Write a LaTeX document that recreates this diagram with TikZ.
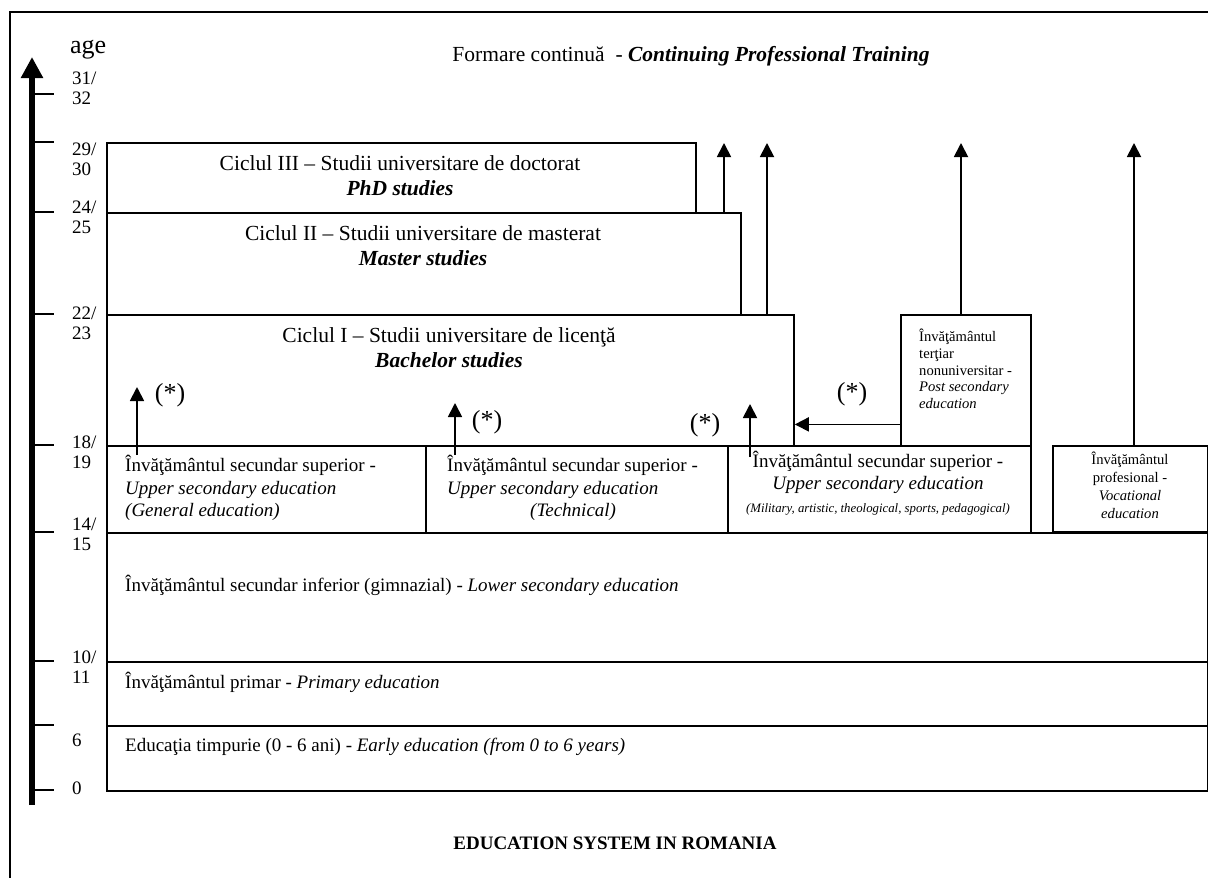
\documentclass[tikz,border=0pt]{standalone}
\usepackage{fontspec}
\setmainfont{Liberation Serif}
\usetikzlibrary{arrows.meta,calc}

\begin{document}
\begin{tikzpicture}[x=1pt,y=-1pt]
\tikzset{caja/.style={draw, line width=1.8pt, anchor=north west, inner sep=0pt}}
\tikzset{flecha/.style={-{Triangle[width=14pt,length=14pt]}, line width=1.8pt}}
\tikzset{eje/.style={-{Triangle[width=21pt,length=21pt]}, line width=6pt}}
\tikzset{edad/.style={anchor=west, inner sep=0pt, align=left, font=\fontsize{19}{20}\selectfont}}
\tikzset{grande/.style={inner sep=0pt, align=center, font=\fontsize{21.5}{25}\selectfont}}
\tikzset{medio/.style={inner sep=0pt, font=\fontsize{19}{22.5}\selectfont}}
\tikzset{chico/.style={inner sep=0pt, font=\fontsize{14.6}{16.8}\selectfont}}
\tikzset{estrella/.style={inner sep=0pt, font=\fontsize{26}{30}\selectfont}}

  \useasboundingbox (0,0) rectangle (1208,878);
  \draw[line width=1.8pt] (10,12) rectangle (1240,910);

  % eje de edades
  \coordinate (e0) at (32,805);
  \coordinate (e1) at (32,57);
  \draw[eje] (e0) -- (e1);
  \foreach \y in {94,142,212,314,445,532,661,725,790}
    \draw[line width=1.8pt] (32,\y) -- (54,\y);

  \draw (70,50) node[estrella, anchor=west](age){age};
  \draw (72,88) node[edad](n31){31/\\32};
  \draw (72,159) node[edad](n29){29/\\30};
  \draw (72,217) node[edad](n24){24/\\25};
  \draw (72,323) node[edad](n22){22/\\23};
  \draw (72,452) node[edad](n18){18/\\19};
  \draw (72,534) node[edad](n14){14/\\15};
  \draw (72,667) node[edad](n10){10/\\11};
  \draw (72,740) node[edad](n6){6};
  \draw (72,788) node[edad](n0){0};

  % cajas
  \node[caja, minimum width=589pt, minimum height=70pt] (phd) at (106,142) {};
  \node[caja, minimum width=634pt, minimum height=102pt] (mas) at (106,212) {};
  \node[caja, minimum width=687pt, minimum height=131pt] (bach) at (106,314) {};
  \node[caja, minimum width=130pt, minimum height=131pt] (post) at (900,314) {};
  \node[caja, minimum width=319pt, minimum height=87pt] (sup1) at (106,445) {};
  \node[caja, minimum width=302pt, minimum height=87pt] (sup2) at (425,445) {};
  \node[caja, minimum width=303pt, minimum height=87pt] (sup3) at (727,445) {};
  \node[caja, minimum width=155pt, minimum height=86pt] (voc) at (1052,445) {};
  \node[caja, minimum width=1101pt, minimum height=129pt] (low) at (106,532) {};
  \node[caja, minimum width=1101pt, minimum height=64pt] (prim) at (106,661) {};
  \node[caja, minimum width=1101pt, minimum height=65pt] (early) at (106,725) {};

  % textos
  \draw (691,56) node[grande](tform){Formare continuă~ - \textbf{\textit{Continuing Professional Training}}};
  \draw (400,176) node[grande](tphd){Ciclul III – Studii universitare de doctorat\\\textbf{\textit{PhD studies}}};
  \draw (423,246) node[grande](tmas){Ciclul II – Studii universitare de masterat\\\textbf{\textit{Master studies}}};
  \draw (449,348) node[grande](tbach){Ciclul I – Studii universitare de licenţă\\\textbf{\textit{Bachelor studies}}};
  \draw (919,369) node[chico, anchor=west, align=left](tpost){Învăţământul\\terţiar\\nonuniversitar -\\\textit{Post secondary}\\\textit{education}};
  \draw (125,488) node[medio, anchor=west, align=left](tsup1){Învăţământul secundar superior -\\\textit{Upper secondary education}\\\textit{(General education)}};
  \draw (447,488) node[medio, anchor=west, align=left](tsup2){Învăţământul secundar superior -\\\textit{Upper secondary education}\\\hspace*{83pt}\textit{(Technical)}};
  \draw (878,483) node[medio, align=center](tsup3){Învăţământul secundar superior -\\\textit{Upper secondary education}\\{\fontsize{12.8}{15}\selectfont\textit{(Military, artistic, theological, sports, pedagogical)}}};
  \draw (1130,485) node[chico, align=center, font=\fontsize{14.6}{18}\selectfont](tvoc){Învăţământul\\profesional -\\\textit{Vocational}\\\textit{education}};
  \draw (125,585) node[medio, anchor=west](tlow){Învăţământul secundar inferior (gimnazial) - \textit{Lower secondary education}};
  \draw (125,682) node[medio, anchor=west](tprim){Învăţământul primar - \textit{Primary education}};
  \draw (125,747) node[medio, anchor=west](tearly){Educaţia timpurie (0 - 6 ani) - \textit{Early education (from 0 to 6 years)}};
  \draw (615,843) node[medio, font=\bfseries\fontsize{19}{22}\selectfont](titulo){EDUCATION SYSTEM IN ROMANIA};

  \draw (170,395) node[estrella](s1){(*)};
  \draw (487,422) node[estrella](s2){(*)};
  \draw (705,425) node[estrella](s3){(*)};
  \draw (852,394) node[estrella](s4){(*)};

  % flechas
  \coordinate (p1) at (137,387);
  \coordinate (p2) at (455,403);
  \coordinate (p3) at (750,404);
  \draw[flecha] ($(sup1.north -| p1)+(0,10)$) -- (p1);
  \draw[flecha] ($(sup2.north -| p2)+(0,10)$) -- (p2);
  \draw[flecha] ($(sup3.north -| p3)+(0,12)$) -- (p3);

  \coordinate (q1) at (724,143);
  \coordinate (q2) at (767,143);
  \coordinate (q3) at (961,143);
  \coordinate (q4) at (1134,143);
  \draw[flecha] (mas.north -| q1) -- (q1);
  \draw[flecha] (bach.north -| q2) -- (q2);
  \draw[flecha] (post.north -| q3) -- (q3);
  \draw[flecha] (voc.north -| q4) -- (q4);
  \draw[flecha] ([yshift=-44pt]post.west) -- ([yshift=-44pt]bach.east);

 \end{tikzpicture}
\end{document}
